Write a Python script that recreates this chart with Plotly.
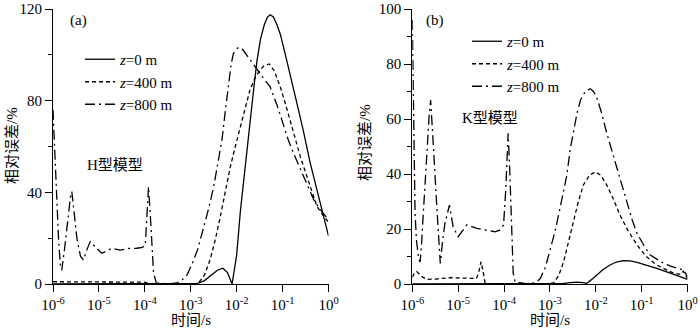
import numpy as np
import plotly.graph_objects as go

# ---------------- data (log10 of time in s, relative error in %) ----------------
# Panel (a) H-type model
a_z0_logt = [-6, -3.3, -3.0, -2.85, -2.7, -2.55, -2.42, -2.30, -2.2, -2.10, -2.05, -2.0, -1.92,
             -1.85, -1.78, -1.70, -1.63, -1.56, -1.48, -1.40, -1.33, -1.27, -1.20, -1.12, -1.05,
             -0.95, -0.85, -0.69, -0.55, -0.40, -0.25, -0.12, 0]
a_z0_err = [0, 0, 0, 0.3, 1.5, 3.8, 6, 6.9, 5, 0, 6, 12.7, 31.6, 45, 58.4, 73, 85, 97, 107, 113,
            116.5, 117.5, 116.5, 113, 109, 101, 92, 79, 67, 53, 41, 30, 21]

a_z400_logt = [-6, -5, -4, -3.9, -3.5, -3.0, -2.83, -2.7, -2.58, -2.47, -2.36, -2.25, -2.14, -2.03,
               -1.92, -1.81, -1.71, -1.60, -1.49, -1.40, -1.29, -1.18, -1.05, -0.90, -0.76, -0.62,
               -0.47, -0.36, -0.25, -0.12, 0]
a_z400_err = [1, 0.8, 0.8, 0, 0, 0, 0.4, 4, 10.5, 19, 29, 40, 51, 60, 68.7, 77, 84.7, 90, 93.4,
              95.3, 96, 93, 86, 76, 65.8, 56, 46.9, 40, 33.8, 30, 27]

a_z800_logt = [-6.0, -5.97, -5.93, -5.88, -5.84, -5.81, -5.75, -5.68, -5.62, -5.59, -5.55, -5.48,
               -5.40, -5.34, -5.26, -5.19, -5.07, -4.94, -4.82, -4.72, -4.54, -4.35, -4.18, -4.05,
               -3.99, -3.95, -3.92, -3.88, -3.84, -3.81, -3.75, -3.5, -3.3, -3.19, -3.08, -2.98,
               -2.85, -2.72, -2.61, -2.50, -2.41, -2.32, -2.25, -2.18, -2.12, -2.07, -1.98, -1.89,
               -1.78, -1.67, -1.55, -1.42, -1.27, -1.12, -0.98, -0.87, -0.76, -0.65, -0.54, -0.43,
               -0.32, -0.16, 0]
a_z800_err = [76, 60, 40, 20, 8, 6, 15, 28, 38, 40.3, 32, 20, 12, 10.5, 15, 18.5, 16, 13.4, 14.5,
              15.6, 14.8, 15.5, 15.6, 16, 17, 30, 42.5, 30, 12, 4.7, 0.5, 0, 0.5, 1.7, 4, 8.3,
              15, 24.3, 33, 42.5, 52, 62.9, 75, 87.6, 96, 100.7, 103, 102.9, 100, 97, 93.5, 89.8,
              86, 78, 68.7, 62.5, 57, 52, 46.9, 42, 36.7, 32, 28]

# Panel (b) K-type model
b_z0_logt = [-6, -3.0, -2.7, -2.55, -2.41, -2.28, -2.2, -2.1, -1.98, -1.84, -1.69, -1.55, -1.40,
             -1.25, -1.10, -0.90, -0.67, -0.33, 0]
b_z0_err = [0, 0, 0.2, 0.5, 0.7, 0.5, 0.2, 1.5, 3.3, 5.3, 6.9, 8.0, 8.5, 8.4, 7.9, 6.9, 5.7, 3.7, 1.7]

b_z400_logt = [-6, -5.95, -5.9, -5.8, -5.69, -5.5, -5.18, -4.85, -4.6, -4.55, -4.5, -4.45, -4.41,
               -4.3, -3.5, -3.1, -2.92, -2.81, -2.70, -2.60, -2.49, -2.38, -2.27, -2.14, -2.01,
               -1.89, -1.76, -1.62, -1.47, -1.30, -1.10, -0.90, -0.67, -0.45, -0.30, -0.15, -0.09, 0]
b_z400_err = [2.5, 4, 4.5, 2.8, 1.7, 1.8, 2.3, 2.2, 2.0, 4.5, 8.1, 4, 0.2, 0, 0, 0, 0.4, 3, 8.1, 15,
              22.7, 30, 36, 39.5, 40.8, 39.5, 36, 31, 25, 19.5, 14.2, 10, 6.9, 5, 3.9, 3.5, 4.7, 2]

b_z800_logt = [-6.0, -5.99, -5.98, -5.97, -5.96, -5.94, -5.91, -5.86, -5.83, -5.80, -5.76, -5.69,
               -5.63, -5.60, -5.57, -5.54, -5.47, -5.41, -5.39, -5.35, -5.29, -5.19, -5.15, -5.11,
               -5.0, -4.90, -4.81, -4.59, -4.38, -4.20, -4.09, -4.01, -3.96, -3.91, -3.87, -3.84,
               -3.80, -3.76, -3.5, -3.3, -3.21, -3.10, -3.0, -2.89, -2.78, -2.63, -2.56, -2.48,
               -2.41, -2.33, -2.23, -2.12, -2.05, -1.98, -1.87, -1.76, -1.65, -1.54, -1.43, -1.32,
               -1.21, -1.10, -0.95, -0.81, -0.66, -0.52, -0.37, -0.23, -0.09, 0]
b_z800_err = [96, 80, 66, 50, 38, 26, 16, 9, 8, 14, 25.7, 47.5, 62, 66.9, 60, 50, 29.3, 13.6, 7.5,
              14, 22, 28.7, 24, 20.8, 17.2, 19.5, 21.5, 20.2, 19.6, 19, 19.6, 21.5, 35, 54.8, 39,
              20.8, 3.9, 0.8, 0, 0.5, 2, 6, 11.8, 19, 27.5, 39.6, 48.7, 56, 62, 67, 70, 71, 70, 68,
              62, 54.8, 48.5, 42.7, 36, 29.3, 23.5, 18.4, 14, 10.5, 8.8, 7.5, 6.5, 5.7, 5.1, 2.7]

series_names = ["<i>z</i>=0 m", "<i>z</i>=400 m", "<i>z</i>=800 m"]
tick_exps = [-6, -5, -4, -3, -2, -1, 0]
tick_vals = [10.0 ** e for e in tick_exps]
tick_text = ["10<sup>%d</sup>" % e for e in tick_exps]

# ---------------- styling ----------------
SERIF = "'Liberation Serif', 'Times New Roman', Times, serif"
CJK = "'Liberation Serif', 'Noto Sans CJK SC', serif"
dashes = ["solid", "4px,3px", "10px,4px,2px,4px"]

fig = go.Figure()
panels = [
    ("x", "y", "legend", [(a_z0_logt, a_z0_err), (a_z400_logt, a_z400_err), (a_z800_logt, a_z800_err)]),
    ("x2", "y2", "legend2", [(b_z0_logt, b_z0_err), (b_z400_logt, b_z400_err), (b_z800_logt, b_z800_err)]),
]
for xa, ya, lg, data in panels:
    for i, (lt, err) in enumerate(data):
        fig.add_trace(go.Scatter(
            x=10.0 ** np.array(lt), y=err, mode="lines", name=series_names[i],
            xaxis=xa, yaxis=ya, legend=lg,
            line=dict(color="black", width=1.3, dash=dashes[i]),
        ))

W, H = 700, 329
MT, MB = 9, 45
PH = H - MT - MB


def px(x):
    return x / W


def py(y):
    return (H - MB - y) / PH


xa_dom = [px(53), px(328.5)]
xb_dom = [px(412.3), px(687.5)]

common_x = dict(type="log", range=[-6, 0], showline=True, linecolor="black", linewidth=1,
                ticks="outside", ticklen=7, tickwidth=1, tickcolor="black", automargin=False,
                tickvals=tick_vals, ticktext=tick_text, showgrid=False, zeroline=False,
                tickfont=dict(family=SERIF, size=15, color="black"))
common_y = dict(showline=True, linecolor="black", linewidth=1, ticks="outside", ticklen=7,
                tickwidth=1, tickcolor="black", showgrid=False, zeroline=False, automargin=False,
                tickfont=dict(family=SERIF, size=15, color="black"))


def ann(text, x, y, font, angle=0, xanchor="center"):
    return dict(text=text, x=px(x), y=py(y), xref="paper", yref="paper", showarrow=False,
                xanchor=xanchor, yanchor="middle", textangle=angle,
                font=dict(family=font, size=15, color="black"))


fig.update_layout(
    width=W, height=H, margin=dict(l=0, r=0, t=MT, b=MB, autoexpand=False),
    paper_bgcolor="white", plot_bgcolor="white",
    xaxis=dict(domain=xa_dom, anchor="y", **common_x),
    yaxis=dict(domain=[0, 1], anchor="x", range=[0, 120], tickvals=[0, 40, 80, 120], **common_y,
               minor=dict(ticks="outside", ticklen=4, tickcolor="black", tickvals=[20, 60, 100])),
    xaxis2=dict(domain=xb_dom, anchor="y2", **common_x),
    yaxis2=dict(domain=[0, 1], anchor="x2", range=[0, 100], tickvals=[0, 20, 40, 60, 80, 100], **common_y,
                minor=dict(ticks="outside", ticklen=4, tickcolor="black", tickvals=[10, 30, 50, 70, 90])),
    showlegend=True,
    legend=dict(x=px(80), y=py(43), xanchor="left", yanchor="top", bgcolor="rgba(0,0,0,0)",
                font=dict(family=SERIF, size=15, color="black"), itemwidth=30),
    legend2=dict(x=px(467), y=py(25), xanchor="left", yanchor="top", bgcolor="rgba(0,0,0,0)",
                 font=dict(family=SERIF, size=15, color="black"), itemwidth=30),
    annotations=[
        ann("(a)", 68, 20, SERIF, xanchor="left"),
        ann("H型模型", 85, 165, CJK, xanchor="left"),
        ann("(b)", 424, 20, SERIF, xanchor="left"),
        ann("K型模型", 460, 118, CJK, xanchor="left"),
        ann("时间/s", 190.5, 320, CJK),
        ann("时间/s", 550, 320, CJK),
        ann("相对误差/%", 12, 146, CJK, angle=-90),
        ann("相对误差/%", 365, 143, CJK, angle=-90),
    ],
)

fig.write_html("out.html", config={"displayModeBar": False},
               post_script="document.body.style.margin='0px';")
